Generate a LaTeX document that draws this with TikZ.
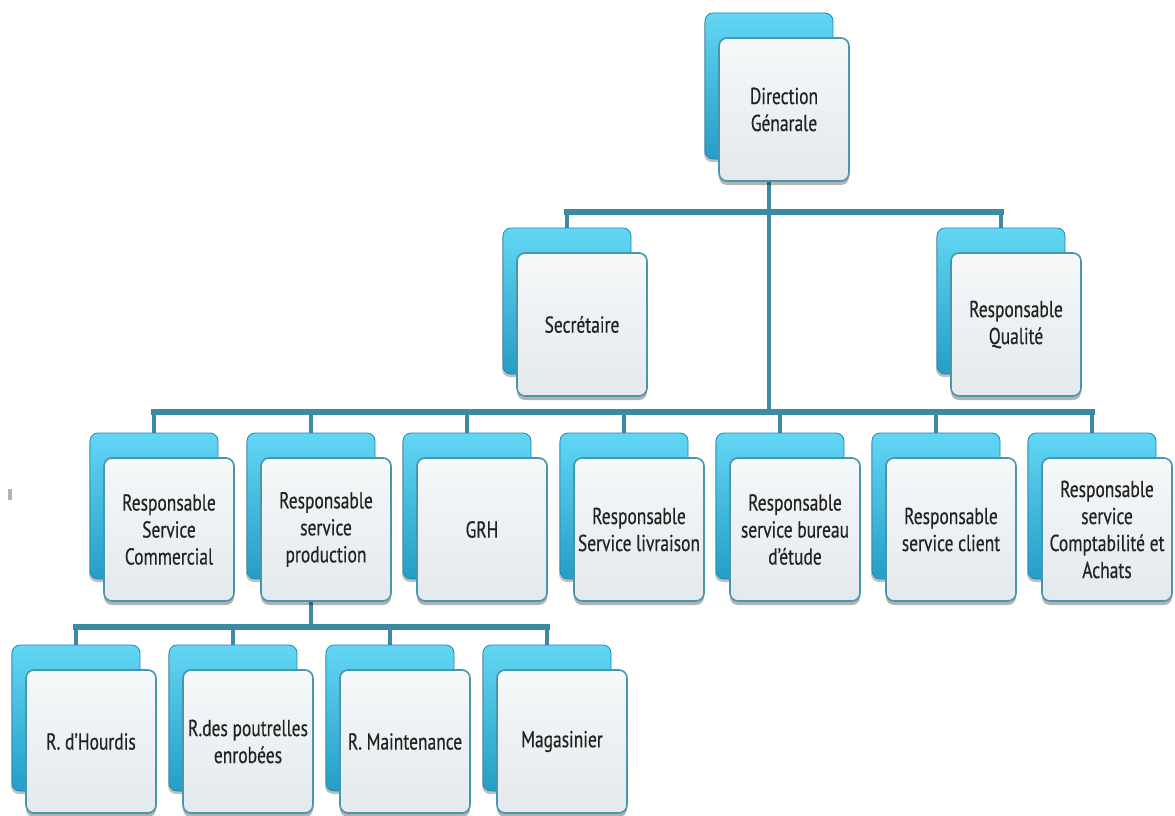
\documentclass[tikz,border=0pt]{standalone}
\usepackage{fontspec}
\setmainfont{PT Sans}[FakeStretch=0.76,FakeBold=0.4]
\usetikzlibrary{shadows,backgrounds}
\definecolor{linec}{HTML}{3A8BA1}
\definecolor{cyantop}{HTML}{62D6F4}
\definecolor{cyanbot}{HTML}{259DC6}
\definecolor{cyanedge}{HTML}{1F8AB0}
\definecolor{fronttop}{HTML}{F6F8F9}
\definecolor{frontbot}{HTML}{E3E9EC}
\definecolor{frontedge}{HTML}{4796AB}
\definecolor{txt}{HTML}{222222}
\tikzset{
  backbox/.style={rectangle, rounded corners=8pt, minimum width=128pt, minimum height=146pt,
    top color=cyantop, bottom color=cyanbot, draw=cyanedge, line width=0.8pt,
    drop shadow={shadow xshift=-1pt, shadow yshift=-3pt, opacity=0.25, fill=black}},
  frontbox/.style={rectangle, rounded corners=8pt, minimum width=130pt, minimum height=143pt,
    top color=fronttop, bottom color=frontbot, draw=frontedge, line width=1.6pt,
    drop shadow={shadow xshift=0pt, shadow yshift=-4pt, opacity=0.3, fill=black},
    align=center, inner sep=2pt, text=txt, font=\fontsize{23}{27}\selectfont},
  vline/.style={draw=linec, line width=4pt},
  hbar/.style={draw=linec, line width=6pt, line cap=rect}
}
\newcommand\orgbox[4]{%
  \node[backbox] (#1-b) at (#2+64,#3+73) {};
  \node[frontbox] (#1) at (#2+79,#3+96.5) {#4};}
\begin{document}
\begin{tikzpicture}[x=1pt,y=-1pt]
\useasboundingbox (0,0) rectangle (1175,816);

\coordinate (y1) at (0,212);
\coordinate (y2) at (0,412);
\coordinate (y3) at (0,627);

\orgbox{dg}{705}{13}{Direction\\Génarale}
\orgbox{sec}{503}{228}{Secrétaire}
\orgbox{qual}{937}{228}{Responsable\\Qualité}

\orgbox{c1}{90}{433}{Responsable\\Service\\Commercial}
\orgbox{c2}{247}{433}{Responsable\\service\\production}
\orgbox{c3}{403}{433}{GRH}
\orgbox{c4}{560}{433}{Responsable\\Service livraison}
\orgbox{c5}{716}{433}{Responsable\\service bureau\\d'étude}
\orgbox{c6}{872}{433}{Responsable\\service client}
\orgbox{c7}{1028}{433}{Responsable\\service\\Comptabilité et\\Achats}

\orgbox{d1}{12}{645}{R. d'Hourdis}
\orgbox{d2}{169}{645}{R.des poutrelles\\enrobées}
\orgbox{d3}{326}{645}{R. Maintenance}
\orgbox{d4}{483}{645}{Magasinier}

\begin{scope}[on background layer]
  \fill[white] (0,0) rectangle (1175,816);
  \fill[gray!60] (8,489) rectangle (12,500);
  \draw[vline] (dg-b.center |- dg.south) -- (dg-b.center |- y2);
  \draw[hbar] (sec-b.north |- y1) -- (qual-b.north |- y1);
  \draw[vline] (sec-b.north |- y1) -- (sec-b.north);
  \draw[vline] (qual-b.north |- y1) -- (qual-b.north);
  \draw[hbar] (c1-b.north |- y2) -- (c7-b.north |- y2);
  \foreach \n in {c1,c2,c3,c4,c5,c6,c7}
    \draw[vline] (\n-b.north |- y2) -- (\n-b.north);
  \draw[vline] (c2-b.center |- c2.south) -- (c2-b.center |- y3);
  \draw[hbar] (d1-b.north |- y3) -- (d4-b.north |- y3);
  \foreach \n in {d1,d2,d3,d4}
    \draw[vline] (\n-b.north |- y3) -- (\n-b.north);
\end{scope}
\end{tikzpicture}
\end{document}
